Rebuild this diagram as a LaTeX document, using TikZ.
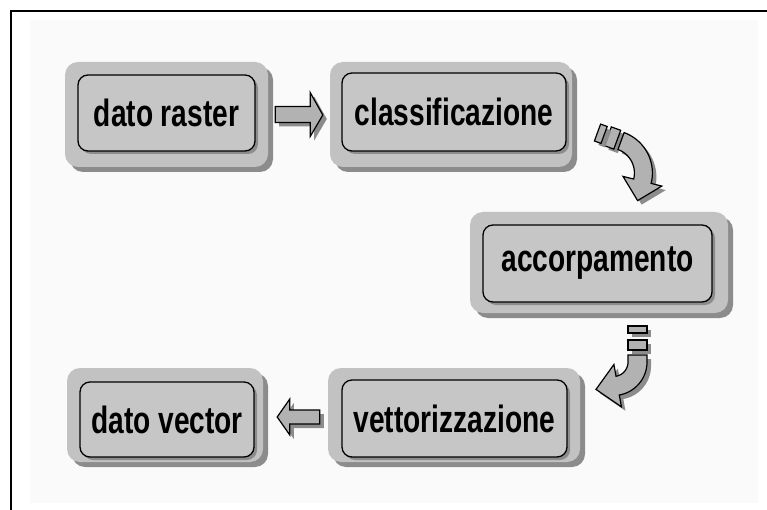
\documentclass[tikz,border=0pt]{standalone}
\usepackage{fontspec}
\setmainfont{Liberation Sans}
\usetikzlibrary{calc,shadows}
\definecolor{outerc}{HTML}{C2C2C2}
\definecolor{innerc}{HTML}{C6C6C6}
\definecolor{shadc}{HTML}{8C8C8C}
\definecolor{arrc}{HTML}{B2B2B2}
\definecolor{bgc}{HTML}{FAFAFA}
\newcommand\boxlbl[1]{\scalebox{0.74}[1]{#1}}
\begin{document}
\begin{tikzpicture}[x=1pt,y=-1pt,
  outerbox/.style={fill=outerc, rounded corners=13pt, inner sep=0pt,
    drop shadow={shadow xshift=5pt, shadow yshift=-5pt, fill=shadc, opacity=1}},
  innerbox/.style={draw=black, line width=1.3pt, fill=innerc, rounded corners=10pt,
    inner sep=0pt, font=\bfseries\fontsize{38}{40}\selectfont,
    drop shadow={shadow xshift=3pt, shadow yshift=-3pt, fill=shadc, opacity=1}},
  blockarrow/.style={fill=arrc, draw=black, line width=1.2pt, line join=miter,
    drop shadow={shadow xshift=4pt, shadow yshift=-4pt, fill=shadc, opacity=1}}]
\useasboundingbox (0,0) rectangle (767,510);
\fill[bgc] (30,20) rectangle (758,503);
\draw[line width=2pt] (11,510) -- (11,11) -- (767,11);

% outer boxes
\node[outerbox, minimum width=203pt, minimum height=105pt] (rasterO) at (166.5,114.5) {};
\node[outerbox, minimum width=242pt, minimum height=105pt] (classO) at (451,114.5) {};
\node[outerbox, minimum width=258pt, minimum height=101pt] (accO) at (599,262.5) {};
\node[outerbox, minimum width=252pt, minimum height=94pt] (vettO) at (454,415) {};
\node[outerbox, minimum width=196pt, minimum height=94pt] (vectO) at (165,415) {};

% inner boxes
\node[innerbox, minimum width=177pt, minimum height=76pt] (raster) at (166.5,113) {\boxlbl{dato raster}};
\node[innerbox, minimum width=224pt, minimum height=78pt] (classif) at (454,112) {\boxlbl{classificazione}};
\node[innerbox, minimum width=229pt, minimum height=77pt] (acc) at (597.5,263.5) {\boxlbl{accorpamento}};
\node[innerbox, minimum width=225pt, minimum height=77pt] (vett) at (454.5,418.5) {\boxlbl{vettorizzazione}};
\node[innerbox, minimum width=174pt, minimum height=75pt] (vect) at (167,419.5) {\boxlbl{dato vector}};

% straight arrow raster -> classificazione
\draw[blockarrow] ($(rasterO.east)+(7,-8)$) -- ($(rasterO.east)+(42,-8)$)
  -- ($(rasterO.east)+(42,-22)$) -- ($(classO.west)+(-7,0.5)$)
  -- ($(rasterO.east)+(42,22)$) -- ($(rasterO.east)+(42,8)$)
  -- ($(rasterO.east)+(7,8)$) -- cycle;

% straight arrow vettorizzazione -> dato vector
\draw[blockarrow] ($(vettO.west)+(-8,-5)$) -- ($(vettO.west)+(-38,-5)$)
  -- ($(vettO.west)+(-38,-16)$) -- ($(vectO.east)+(14,2)$)
  -- ($(vettO.west)+(-38,20)$) -- ($(vettO.west)+(-38,9)$)
  -- ($(vettO.west)+(-8,9)$) -- cycle;

% curved arrow classificazione -> accorpamento
\draw[blockarrow] (620.7,130.3) -- (613.8,149.1) -- (604.4,145.7) -- (611.3,126.9) -- cycle;
\draw[blockarrow] (607.2,126.5) -- (601,143.4) -- (594.4,141) -- (600.6,124.1) -- cycle;
\draw[blockarrow] plot[domain=-70:14, samples=30, smooth] ({609.4+43*cos(\x)},{173+43*sin(\x)})
  -- (661.8,186.1) -- (637.6,200.6) -- (623,176.4)
  -- plot[domain=14:-70, samples=30, smooth] ({609.4+25*cos(\x)},{173+25*sin(\x)}) -- cycle;

% curved arrow accorpamento -> vettorizzazione
\draw[blockarrow] (628,326) rectangle (647,333);
\draw[blockarrow] (628,340) rectangle (647,350);
\draw[blockarrow] (628,355) -- (647,355) -- (647,362)
  -- plot[domain=0:80, samples=30, smooth] ({613.5+33.5*cos(\x)},{362+33.5*sin(\x)})
  -- (621.4,406.8) -- (596,389.4) -- (613.9,364.5)
  -- plot[domain=80:0, samples=30, smooth] ({613.5+14.5*cos(\x)},{362+14.5*sin(\x)})
  -- (628,362) -- cycle;
\end{tikzpicture}
\end{document}
